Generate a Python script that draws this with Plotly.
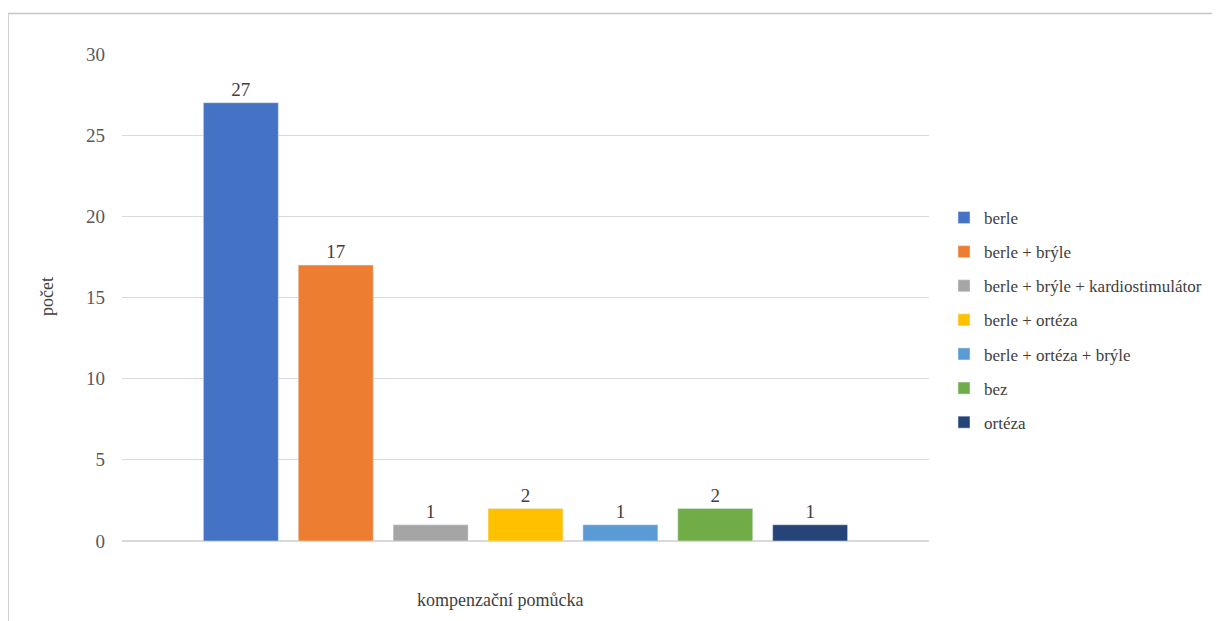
import plotly.graph_objects as go

categories = ["berle", "berle + brýle", "berle + brýle + kardiostimulátor",
              "berle + ortéza", "berle + ortéza + brýle", "bez", "ortéza"]
counts = [27, 17, 1, 2, 1, 2, 1]
colors = ["#4472C4", "#ED7D31", "#A5A5A5", "#FFC000", "#5B9BD5", "#70AD47", "#264478"]
y_ticks = [0, 5, 10, 15, 20, 25, 30]

FONT = "Liberation Serif"

fig = go.Figure()
for i, (name, val, col) in enumerate(zip(categories, counts, colors)):
    fig.add_trace(go.Bar(
        x=[""], y=[val], name=name,
        marker=dict(color=col),
        text=[str(val)], textposition="outside",
        textfont=dict(family=FONT, size=19, color="#404040"),
        cliponaxis=False,
        legendgroup=f"g{i}",
    ))

OFF = 8  # page body margin
W, H = 1220, 621
# plot area in page coordinates
L, R, T, B = 122 - OFF, 929 - OFF, 54 - OFF, 541 - OFF
pw, ph = R - L, B - T

def px_x(x):
    return (x - OFF - L) / pw

def px_y(y):
    return (B - (y - OFF)) / ph

fig.update_layout(
    width=W, height=H,
    margin=dict(l=L, r=W - R, t=T, b=H - B, pad=0, autoexpand=False),
    paper_bgcolor="white", plot_bgcolor="white",
    barmode="group", bargap=0.177, bargroupgap=0.21,
    font=dict(family=FONT, size=18, color="#404040"),
    showlegend=True,
    legend=dict(
        x=px_x(944), xanchor="left", y=px_y(320), yanchor="middle",
        font=dict(family=FONT, size=17, color="#404040"),
        tracegroupgap=9, itemwidth=30,
        bgcolor="rgba(0,0,0,0)",
    ),
    xaxis=dict(showticklabels=False, showgrid=False, zeroline=False,
               showline=False, ticks=""),
    yaxis=dict(range=[0, 30], tickvals=y_ticks, showgrid=True,
               gridcolor="#D9D9D9", gridwidth=1, zeroline=True,
               zerolinecolor="#D9D9D9", zerolinewidth=1.5, showline=False,
               ticks="", ticklabelstandoff=16,
               tickfont=dict(family=FONT, size=19, color="#595959")),
    annotations=[
        dict(text="počet", x=px_x(47), y=px_y(297), xref="paper", yref="paper",
             textangle=-90, showarrow=False, xanchor="center", yanchor="middle",
             font=dict(family=FONT, size=18, color="#404040")),
        dict(text="kompenzační pomůcka", x=px_x(500), y=px_y(600),
             xref="paper", yref="paper", showarrow=False,
             xanchor="center", yanchor="middle",
             font=dict(family=FONT, size=18, color="#404040")),
    ],
    shapes=[
        dict(type="rect", xref="paper", yref="paper",
             x0=px_x(8), x1=px_x(1260), y0=px_y(700), y1=px_y(13.5),
             line=dict(color="#C4C4C4", width=1.5), fillcolor="rgba(0,0,0,0)",
             layer="below"),
    ],
)

fig.write_html("out.html")
